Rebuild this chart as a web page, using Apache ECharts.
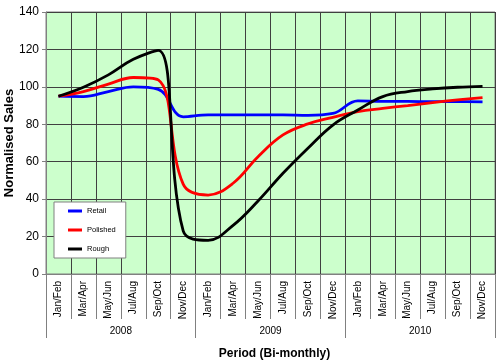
<!DOCTYPE html>
<html>
<head>
<meta charset="utf-8">
<script src="https://cdn.jsdelivr.net/npm/echarts@6/dist/echarts.min.js"></script>
<style>html,body{margin:0;padding:0;background:#fff}#c{width:500px;height:361px}</style>
</head>
<body>
<div id="c"></div>
<script>
var months = ['Jan/Feb','Mar/Apr','May/Jun','Jul/Aug','Sep/Oct','Nov/Dec',
              'Jan/Feb','Mar/Apr','May/Jun','Jul/Aug','Sep/Oct','Nov/Dec',
              'Jan/Feb','Mar/Apr','May/Jun','Jul/Aug','Sep/Oct','Nov/Dec'];
var years = ['2008','2009','2010'];
var retail   = [95, 94.8, 97.5, 100, 98.7, 84, 85, 85, 85, 85, 84.8, 85.8, 92.5, 92.2, 92.2, 92.1, 92.1, 92];
var polished = [95, 97.5, 101.5, 105, 103.7, 48, 42.2, 48.5, 62.7, 74.3, 80.2, 83.7, 86.8, 88.5, 90, 91.6, 93, 94.2];
var rough    = [95, 99.8, 106.4, 114.7, 119.5, 23, 18, 26, 39, 53.8, 67.2, 79.6, 87.6, 94.8, 97.5, 98.9, 99.8, 100.3];
var yTicks = {min: 0, max: 140, interval: 20};

var chart = echarts.init(document.getElementById('c'));
var font = 'Arial, "Liberation Sans", sans-serif';
function line(name, data, color) {
  return {name: name, type: 'line', data: data, smooth: 0.4, symbol: 'none',
    lineStyle: {color: color, width: 2.8}, itemStyle: {color: color}};
}
chart.setOption({
  animation: false,
  backgroundColor: '#ffffff',
  textStyle: {fontFamily: font},
  grid: {left: 46, right: 5, top: 12, bottom: 87, show: true, containLabel: false,
    outerBoundsMode: 'none',
    backgroundColor: '#ccffcc', borderColor: '#808080', borderWidth: 1},
  legend: {
    orient: 'vertical', left: 54, top: 202,
    backgroundColor: '#ffffff', borderColor: '#808080', borderWidth: 1,
    padding: [4, 10, 4, 14], itemGap: 9, itemWidth: 14, itemHeight: 3, icon: 'rect',
    textStyle: {fontSize: 7.5, fontFamily: font, color: '#000', lineHeight: 10},
    data: ['Retail', 'Polished', 'Rough']
  },
  xAxis: [{
    type: 'category', data: months, boundaryGap: true, position: 'bottom',
    axisLine: {lineStyle: {color: '#808080', width: 1}},
    axisTick: {show: true, length: 45, interval: 0, lineStyle: {color: '#808080'}},
    axisLabel: {rotate: 90, interval: 0, fontSize: 10, margin: 7, color: '#000', fontFamily: font},
    splitLine: {show: true, interval: 0, lineStyle: {color: '#404040', width: 1}},
    name: 'Period (Bi-monthly)', nameLocation: 'middle', nameGap: 74, nameMoveOverlap: false,
    nameTextStyle: {fontSize: 12, fontWeight: 'bold', color: '#000', fontFamily: font, padding: [0, 0, 0, 8]}
  }, {
    type: 'category', data: years, boundaryGap: true, position: 'bottom',
    axisLine: {show: false},
    axisTick: {show: true, length: 64, interval: 0, lineStyle: {color: '#808080'}},
    axisLabel: {interval: 0, fontSize: 10, margin: 52, color: '#000', fontFamily: font},
    splitLine: {show: false}
  }],
  yAxis: {
    type: 'value', min: yTicks.min, max: yTicks.max, interval: yTicks.interval,
    axisLine: {show: true, lineStyle: {color: '#808080'}},
    axisTick: {show: true, length: 4, lineStyle: {color: '#808080'}},
    axisLabel: {fontSize: 12, margin: 7, color: '#000', fontFamily: font},
    splitLine: {show: true, lineStyle: {color: '#404040', width: 1}},
    name: 'Normalised Sales', nameLocation: 'middle', nameGap: 30, nameMoveOverlap: false,
    nameTextStyle: {fontSize: 13, fontWeight: 'bold', color: '#000', fontFamily: font}
  },
  series: [
    line('Retail', retail, '#0000ff'),
    line('Polished', polished, '#ff0000'),
    line('Rough', rough, '#000000')
  ]
});
</script>
</body>
</html>
